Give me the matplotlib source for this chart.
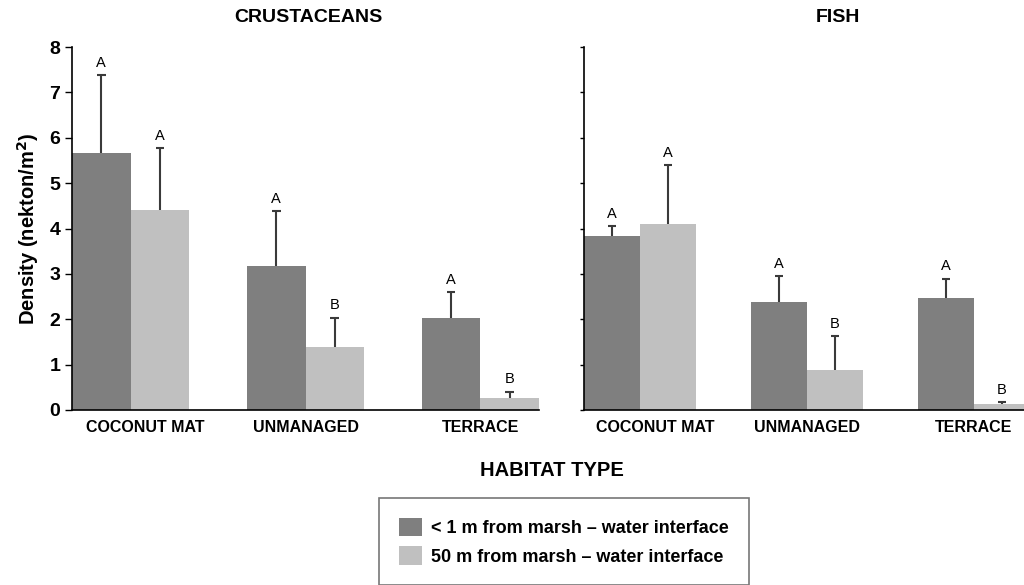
import numpy as np
import matplotlib.pyplot as plt
import matplotlib.transforms as mtransforms
from matplotlib.patches import Patch

plt.rcParams['font.family'] = ['Liberation Sans', 'DejaVu Sans']

habitats = ['COCONUT MAT', 'UNMANAGED', 'TERRACE']

# crustaceans
crus_near = [5.66, 3.17, 2.03]
crus_near_se = [1.72, 1.21, 0.57]
crus_far = [4.41, 1.39, 0.26]
crus_far_se = [1.36, 0.64, 0.14]
crus_near_lbl = ['A', 'A', 'A']
crus_far_lbl = ['A', 'B', 'B']

# fish
fish_near = [3.83, 2.39, 2.46]
fish_near_se = [0.22, 0.56, 0.43]
fish_far = [4.09, 0.88, 0.13]
fish_far_se = [1.31, 0.74, 0.04]
fish_near_lbl = ['A', 'A', 'A']
fish_far_lbl = ['A', 'B', 'B']

dark = '#7f7f7f'
light = '#c0c0c0'
w = 0.335
cap = 0.025

fig = plt.figure(figsize=(10.24, 5.85), dpi=100)
ax1 = fig.add_axes([72/1024, 1-410/585, 467/1024, 363/585])
ax2 = fig.add_axes([584/1024, 1-410/585, 440/1024, 363/585])


def panel(ax, near, near_se, far, far_se, nl, fl, xmax):
    x = np.arange(len(habitats))
    ax.bar(x - w/2, near, w, color=dark, zorder=2)
    ax.bar(x + w/2, far, w, color=light, zorder=2)
    for xs, vals, se, lbl in [(x - w/2, near, near_se, nl), (x + w/2, far, far_se, fl)]:
        tops = np.array(vals) + np.array(se)
        # upper error bar only
        ax.vlines(xs, vals, tops, color='#3a3a3a', lw=1.5, zorder=3)
        ax.hlines(tops, xs - cap, xs + cap, color='#3a3a3a', lw=1.5, zorder=3)
        for xi, t_y, t in zip(xs, tops, lbl):
            ax.text(xi, t_y + 0.12, t, ha='center', va='bottom', fontsize=10.5)
    ax.set_xlim(-w, xmax)
    ax.set_ylim(0, 8)
    ax.set_yticks(range(9))
    ax.set_xticks(x)
    ax.set_xticklabels(habitats, fontsize=11.5, fontweight='bold')
    ax.tick_params(axis='x', length=0, pad=7)
    ax.tick_params(axis='y', direction='out', length=5, width=1)
    for s in ['top', 'right']:
        ax.spines[s].set_visible(False)
    for s in ['left', 'bottom']:
        ax.spines[s].set_linewidth(1.2)
    # first label sits a bit right of its group, clear of the y axis
    first = ax.get_xticklabels()[0]
    shift = mtransforms.ScaledTranslation(15/100, 0, fig.dpi_scale_trans)
    first.set_transform(first.get_transform() + shift)


panel(ax1, crus_near, crus_near_se, crus_far, crus_far_se, crus_near_lbl, crus_far_lbl, 2 + w)
panel(ax2, fish_near, fish_near_se, fish_far, fish_far_se, fish_near_lbl, fish_far_lbl, 2.3)

for lab in ax1.get_yticklabels():
    lab.set_fontsize(14)
    lab.set_fontweight('bold')
ax2.set_yticklabels([])
ax2.tick_params(axis='y', length=3)
ax1.set_ylabel('Density (nekton/m$^\\mathbf{2}$)', fontsize=14.5, fontweight='bold', labelpad=6)

fig.text(308/1024, 1-17/585, 'CRUSTACEANS', ha='center', va='center', fontsize=14, fontweight='bold')
fig.text(838/1024, 1-17/585, 'FISH', ha='center', va='center', fontsize=14, fontweight='bold')
fig.text(552/1024, 1-470/585, 'HABITAT TYPE', ha='center', va='center', fontsize=14.5, fontweight='bold')

handles = [Patch(facecolor=dark, edgecolor='none'), Patch(facecolor=light, edgecolor='none')]
leg = fig.legend(handles, ['< 1 m from marsh \u2013 water interface', '50 m from marsh \u2013 water interface'],
                 loc='upper center', bbox_to_anchor=(564/1024, 1-498/585), frameon=True, fancybox=False,
                 prop={'size': 13, 'weight': 'bold'}, handlelength=1.3, handleheight=1.2,
                 borderpad=1.1, labelspacing=0.5, handletextpad=0.5, borderaxespad=0)
leg.get_frame().set_edgecolor('#555555')
leg.get_frame().set_linewidth(1.2)

fig.savefig('out.png', dpi=100)
